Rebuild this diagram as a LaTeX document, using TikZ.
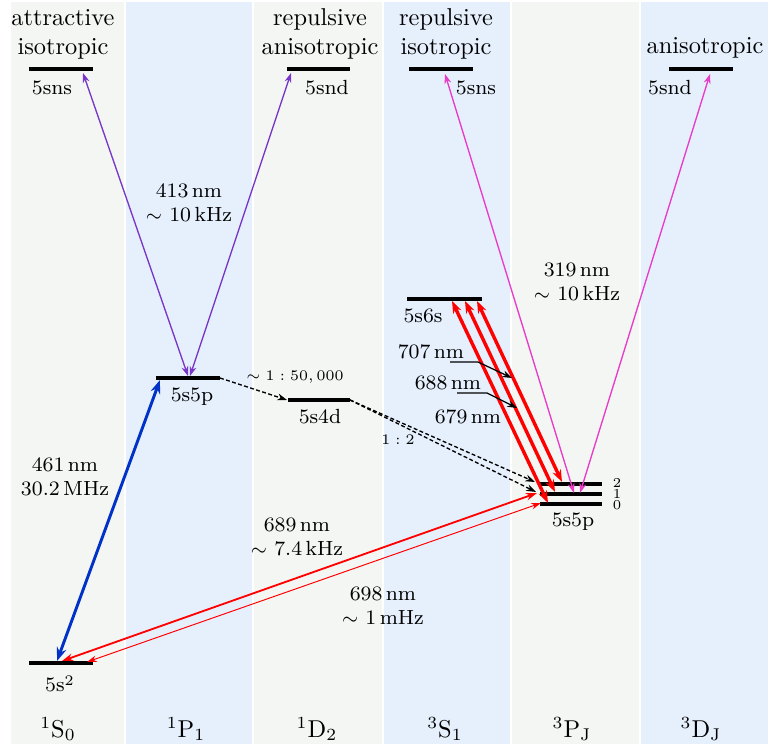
\documentclass[tikz,border=0pt]{standalone}
\usetikzlibrary{arrows.meta}
\definecolor{colgray}{RGB}{244,246,243}
\definecolor{colblue}{RGB}{230,240,253}
\definecolor{myviolet}{RGB}{120,55,200}
\definecolor{mymagenta}{RGB}{232,60,200}
\definecolor{myblue}{RGB}{0,50,200}
\definecolor{myred}{RGB}{255,0,0}
\begin{document}
\begin{tikzpicture}[x=0.41pt,y=-0.41pt,
  lvl/.style={fill=black,inner sep=0pt,minimum height=1.5pt,minimum width=26.2pt},
  lab/.style={font=\fontsize{8.4}{9.8}\selectfont,inner sep=0pt,align=center},
  big/.style={font=\fontsize{10}{11.8}\selectfont,inner sep=0pt,align=center},
  tiny/.style={font=\fontsize{6.5}{7.5}\selectfont,inner sep=0pt},
  jlab/.style={font=\fontsize{5.6}{6}\selectfont,inner sep=0pt},
  vio/.style={myviolet,line width=0.55pt,{Stealth[length=4pt,width=2.8pt]}-{Stealth[length=4pt,width=2.8pt]}},
  mag/.style={mymagenta,line width=0.55pt,{Stealth[length=4pt,width=2.8pt]}-{Stealth[length=4pt,width=2.8pt]}},
  bluearr/.style={myblue,line width=1.2pt,{Stealth[length=5.5pt,width=4pt]}-{Stealth[length=5.5pt,width=4pt]}},
  redthick/.style={myred,line width=1.4pt,{Stealth[length=5pt,width=3.6pt]}-{Stealth[length=5pt,width=3.6pt]}},
  redmid/.style={myred,line width=0.75pt,{Stealth[length=4.5pt,width=3pt]}-{Stealth[length=4.5pt,width=3pt]}},
  redthin/.style={myred,line width=0.4pt,{Stealth[length=4pt,width=2.6pt]}-{Stealth[length=4pt,width=2.6pt]}},
  dasharr/.style={black,line width=0.55pt,dash pattern=on 1.6pt off 1pt,-{Stealth[length=4pt,width=2.8pt]}},
  pointer/.style={black,line width=0.5pt,-{Stealth[length=4pt,width=2.8pt]}}
]
\useasboundingbox (0,0) rectangle (768,744);
% column backgrounds
\fill[colgray] (11,2) rectangle (124,744);
\fill[colblue] (126,2) rectangle (252,744);
\fill[colgray] (254,2) rectangle (382,744);
\fill[colblue] (384,2) rectangle (510,744);
\fill[colgray] (512,2) rectangle (639,744);
\fill[colblue] (641,2) rectangle (768,744);

% levels
\node[lvl] (sns1) at (61,69) {};
\node[lvl] (snd3) at (318.5,69) {};
\node[lvl] (sns4) at (441,69) {};
\node[lvl] (snd6) at (701,69) {};
\node[lvl] (p1) at (188,378) {};
\node[lvl,minimum width=25.4pt] (d4) at (319,400) {};
\node[lvl,minimum width=30.8pt] (s6) at (444.5,299) {};
\node[lvl,minimum width=25.4pt] (P2) at (571,484) {};
\node[lvl,minimum width=25.4pt] (P1) at (571,494) {};
\node[lvl,minimum width=25.4pt] (P0) at (571,504) {};
\node[lvl] (g) at (61,663) {};

% top labels
\node[big] (t1) at (63,34) {attractive\\isotropic};
\node[big] (t3) at (320,34) {repulsive\\anisotropic};
\node[big] (t4) at (446,34) {repulsive\\isotropic};
\node[big] (t6) at (705,48) {anisotropic};

% level labels
\node[lab] (l1) at (52,88) {5sns};
\node[lab] (l3) at (327,88) {5snd};
\node[lab] (l4) at (476,88) {5sns};
\node[lab] (l6) at (670,88) {5snd};
\node[lab] (lp1) at (192,397) {5s5p};
\node[lab] (ld4) at (320,417) {5s4d};
\node[lab] (ls6) at (423,316) {5s6s};
\node[lab] (lP) at (573,522) {5s5p};
\node[lab] (lg) at (60,684) {5s$^2$};
\node[jlab] (j2) at (617,483) {2};
\node[jlab] (j1) at (617,494) {1};
\node[jlab] (j0) at (617,505) {0};

% transition labels
\node[lab] (w461) at (65,477) {461\,nm\\30.2\,MHz};
\node[lab] (w413) at (189,203) {413\,nm\\$\sim$ 10\,kHz};
\node[lab] (w319) at (577,282) {319\,nm\\$\sim$ 10\,kHz};
\node[lab] (w689) at (297,537) {689\,nm\\$\sim$ 7.4\,kHz};
\node[lab] (w698) at (383,606) {698\,nm\\$\sim$ 1\,mHz};
\node[lab] (w707) at (431,352) {707\,nm};
\node[lab] (w688) at (448,383) {688\,nm};
\node[lab] (w679) at (468,417) {679\,nm};
\node[tiny] (r1) at (295,377) {$\sim 1:50,000$};
\node[tiny] (r2) at (398,440) {$1:2$};

% bottom labels
\node[big] (b1) at (58,729) {$^1\mathrm{S}_0$};
\node[big] (b2) at (186,729) {$^1\mathrm{P}_1$};
\node[big] (b3) at (317,729) {$^1\mathrm{D}_2$};
\node[big] (b4) at (445,729) {$^3\mathrm{S}_1$};
\node[big] (b5) at (572,729) {$^3\mathrm{P}_\mathrm{J}$};
\node[big] (b6) at (701,729) {$^3\mathrm{D}_\mathrm{J}$};

% arrow end points
\coordinate (a1) at (83,73);
\coordinate (a2) at (188,376);
\coordinate (a3) at (291,73);
\coordinate (a4) at (190,376);
\coordinate (b1s) at (57,661);
\coordinate (b1e) at (160,380);
\coordinate (c1) at (220,378);
\coordinate (c2) at (287,400);
\coordinate (c3) at (350,400);
\coordinate (c4) at (535,482);
\coordinate (c5) at (536,492);
\coordinate (e1s) at (452,301);
\coordinate (e1e) at (548,503);
\coordinate (e2s) at (465,301);
\coordinate (e2e) at (555,492);
\coordinate (e3s) at (477,301);
\coordinate (e3e) at (562,482);
\coordinate (m1s) at (445,74);
\coordinate (m1e) at (574,493);
\coordinate (m2s) at (710,74);
\coordinate (m2e) at (580,493);
\coordinate (f1s) at (62,661);
\coordinate (f1e) at (537,493);
\coordinate (f2s) at (87,662);
\coordinate (f2e) at (541,503);
\coordinate (q1a) at (450,362);
\coordinate (q1b) at (478,362);
\coordinate (q1c) at (512,378);
\coordinate (q2a) at (457,393);
\coordinate (q2b) at (487,393);
\coordinate (q2c) at (517,408);

% connectors
\draw[vio] (a1) -- (a2);
\draw[vio] (a3) -- (a4);
\draw[bluearr] (b1s) -- (b1e);
\draw[dasharr] (c1) -- (c2);
\draw[dasharr] (c3) -- (c4);
\draw[dasharr] (c3) -- (c5);
\draw[mag] (m1s) -- (m1e);
\draw[mag] (m2s) -- (m2e);
\draw[redthick] (e1s) -- (e1e);
\draw[redthick] (e2s) -- (e2e);
\draw[redthick] (e3s) -- (e3e);
\draw[redmid] (f1s) -- (f1e);
\draw[redthin] (f2s) -- (f2e);
\draw[pointer] (q1a) -- (q1b) -- (q1c);
\draw[pointer] (q2a) -- (q2b) -- (q2c);
\end{tikzpicture}
\end{document}
